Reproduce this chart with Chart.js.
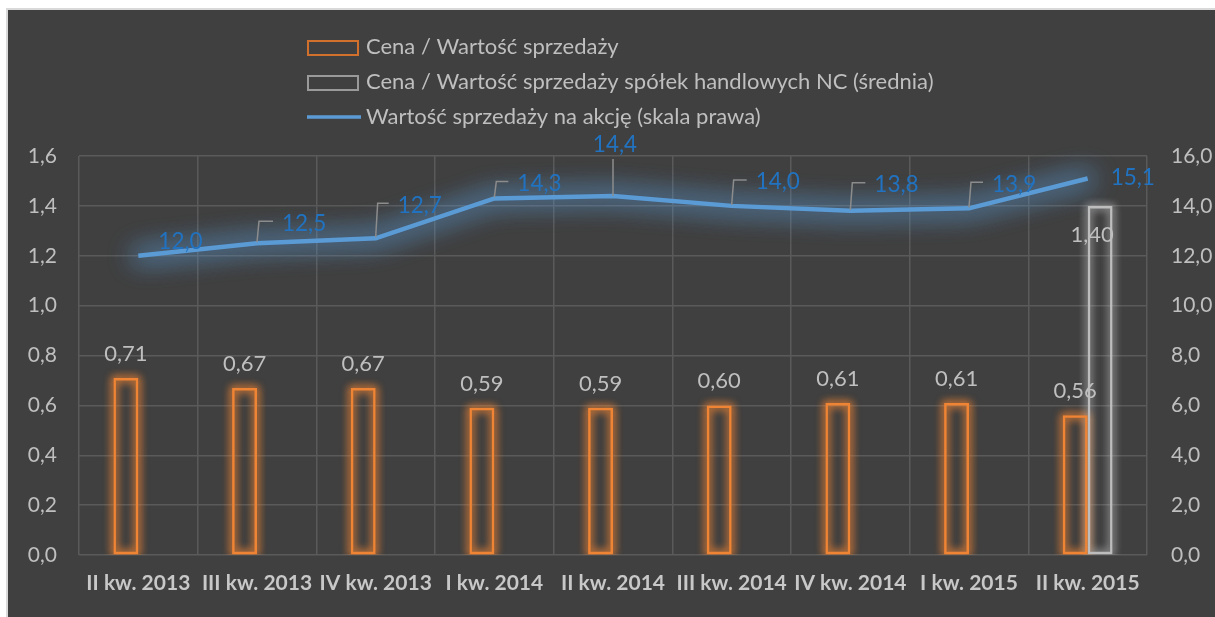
<!DOCTYPE html>
<html>
<head>
<meta charset="utf-8">
<script src="https://cdn.jsdelivr.net/npm/chart.js@4/dist/chart.umd.min.js"></script>
<style>
	html, body { margin: 0; padding: 0; background: #fff; overflow: hidden; }
	#panel {
		position: absolute; left: 6px; top: 8px; width: 1209px; height: 609px;
		border-top: 2px solid #d9d9d9; border-left: 2px solid #d9d9d9;
		background: #404040;
	}
	#wrap { position: absolute; left: 0; top: 0; width: 1207px; height: 607px; }
</style>
</head>
<body>
<div id="panel"><div id="wrap"><canvas id="chart"></canvas></div></div>
<script>
var categories = ['II kw. 2013', 'III kw. 2013', 'IV kw. 2013', 'I kw. 2014', 'II kw. 2014', 'III kw. 2014', 'IV kw. 2014', 'I kw. 2015', 'II kw. 2015'];
var priceToSales = [0.71, 0.67, 0.67, 0.59, 0.59, 0.60, 0.61, 0.61, 0.56];
var priceToSalesNC = [null, null, null, null, null, null, null, null, 1.40];
var salesPerShare = [12.0, 12.5, 12.7, 14.3, 14.4, 14.0, 13.8, 13.9, 15.1];
var seriesNames = [
	'Cena / Wartość sprzedaży',
	'Cena / Wartość sprzedaży spółek handlowych NC (średnia)',
	'Wartość sprzedaży na akcję (skala prawa)'
];

var FONT = 'Lato, "Open Sans", sans-serif';
var ORANGE = '#ef8434';
var GREY = '#bdbdbd';
var BLUE = '#5b9bd5';
var LABEL_BLUE = '#2173c1';
var TEXT = '#bfbfbf';

// where excel put the blue labels (text left / vertical offset from the point)
var lineLabelPos = [
	{dx: 20, dy: -14, leader: null},
	{dx: 25, dy: -20, leader: 'elbow'},
	{dx: 22, dy: -33, leader: 'elbow'},
	{dx: 23, dy: -15, leader: 'elbow'},
	{dx: 0, dy: -51, leader: 'vertical'},
	{dx: 24, dy: -24, leader: 'elbow'},
	{dx: 24, dy: -26, leader: 'elbow'},
	{dx: 23, dy: -24, leader: 'elbow'},
	{dx: 23, dy: -1, leader: null}
];

function comma(v, d){
	return v.toFixed(d).replace('.', ',');
}

// soft glow under the bars and the line (excel "glow" effect)
// shapes are drawn far off canvas, only their shadow lands on the chart
var SHIFT = 4000;
var glowPlugin = {
	id: 'glow',
	beforeDatasetsDraw: (chart) => {
		var ctx = chart.ctx;
		var area = chart.chartArea;
		ctx.save();
		ctx.beginPath();
		ctx.rect(area.left, area.top - 40, area.right - area.left + 20, area.bottom - area.top + 40);
		ctx.clip();
		ctx.translate(-SHIFT, 0);
		ctx.shadowOffsetX = SHIFT * chart.currentDevicePixelRatio;

		[1, 2].forEach(i => {
			var ds = chart.data.datasets[i];
			var meta = chart.getDatasetMeta(i);
			meta.data.forEach((bar, j) => {
				if(ds.data[j] == null) return;
				var p = bar.getProps(['x', 'y', 'base', 'width'], true);
				ctx.shadowColor = ds.glowColor;
				ctx.shadowBlur = 9;
				ctx.strokeStyle = '#000';
				ctx.lineWidth = 4;
				for(var k = 0; k < 2; k++){
					ctx.strokeRect(p.x - p.width / 2 + 1, p.y + 1, p.width - 2, p.base - p.y - 2);
				}
			});
		});

		var meta = chart.getDatasetMeta(0);
		ctx.shadowColor = 'rgba(91,155,213,0.45)';
		ctx.shadowBlur = 26;
		ctx.strokeStyle = '#000';
		ctx.lineWidth = 14;
		ctx.lineJoin = 'round';
		ctx.lineCap = 'round';
		for(var k = 0; k < 2; k++){
			ctx.beginPath();
			meta.data.forEach((pt, j) => {
				if(j === 0) ctx.moveTo(pt.x, pt.y);
				else ctx.lineTo(pt.x, pt.y);
			});
			ctx.stroke();
		}
		ctx.restore();
	}
};

var labelPlugin = {
	id: 'labels',
	afterDatasetsDraw: (chart) => {
		var ctx = chart.ctx;
		ctx.save();
		ctx.textBaseline = 'middle';

		// bar labels
		ctx.font = '22px ' + FONT;
		ctx.fillStyle = TEXT;
		ctx.textAlign = 'center';
		[1, 2].forEach(i => {
			var meta = chart.getDatasetMeta(i);
			var data = chart.data.datasets[i].data;
			meta.data.forEach((bar, j) => {
				if(data[j] == null) return;
				if(i === 1){
					ctx.fillText(comma(data[j], 2), bar.x, bar.y - 24);
				}else{
					ctx.fillText(comma(data[j], 2), bar.x - 8, bar.y + 29);
				}
			});
		});

		// line labels with leader lines
		var meta = chart.getDatasetMeta(0);
		ctx.font = '22.5px ' + FONT;
		meta.data.forEach((pt, j) => {
			var p = lineLabelPos[j];
			var ly = pt.y + p.dy;
			ctx.strokeStyle = '#8c8c8c';
			ctx.lineWidth = 1.5;
			if(p.leader === 'elbow'){
				ctx.beginPath();
				ctx.moveTo(pt.x, pt.y - 1);
				ctx.lineTo(pt.x + 2, ly - 2);
				ctx.lineTo(pt.x + p.dx - 9, ly - 2);
				ctx.stroke();
			}else if(p.leader === 'vertical'){
				ctx.beginPath();
				ctx.moveTo(pt.x, pt.y);
				ctx.lineTo(pt.x, ly + 14);
				ctx.stroke();
			}
			ctx.fillStyle = LABEL_BLUE;
			if(p.leader === 'vertical'){
				ctx.textAlign = 'center';
				ctx.fillText(comma(salesPerShare[j], 1), pt.x + 2, ly);
			}else{
				ctx.textAlign = 'left';
				ctx.fillText(comma(salesPerShare[j], 1), pt.x + p.dx, ly);
			}
		});
		ctx.restore();
	}
};

var legendPlugin = {
	id: 'customLegend',
	afterDraw: (chart) => {
		var ctx = chart.ctx;
		var x = 299, rows = [37, 72, 107];
		ctx.save();
		ctx.font = '22px ' + FONT;
		ctx.textBaseline = 'middle';
		ctx.textAlign = 'left';
		ctx.fillStyle = TEXT;
		ctx.lineWidth = 2;
		ctx.strokeStyle = '#d0702c';
		ctx.strokeRect(x + 1, rows[0] - 6, 50, 14);
		ctx.strokeStyle = '#9a9a9a';
		ctx.strokeRect(x + 1, rows[1] - 6, 50, 14);
		ctx.strokeStyle = BLUE;
		ctx.lineWidth = 3.5;
		ctx.beginPath();
		ctx.moveTo(x, rows[2]);
		ctx.lineTo(x + 54, rows[2]);
		ctx.stroke();
		seriesNames.forEach((name, i) => {
			ctx.fillText(name, x + 59, rows[i]);
		});
		ctx.restore();
	}
};

var chart = new Chart(document.getElementById('chart'), {
	type: 'bar',
	data: {
		labels: categories,
		datasets: [{
			type: 'line',
			label: seriesNames[2],
			data: salesPerShare,
			yAxisID: 'y1',
			borderColor: BLUE,
			borderWidth: 4.5,
			pointRadius: 0,
			tension: 0,
			order: 0
		}, {
			label: seriesNames[0],
			data: priceToSales,
			yAxisID: 'y',
			backgroundColor: 'rgba(0,0,0,0)',
			borderColor: ORANGE,
			borderWidth: 2.5,
			borderSkipped: false,
			order: 1,
			glowColor: 'rgba(239,132,52,0.75)'
		}, {
			label: seriesNames[1],
			data: priceToSalesNC,
			yAxisID: 'y',
			backgroundColor: 'rgba(0,0,0,0)',
			borderColor: GREY,
			borderWidth: 2.5,
			borderSkipped: false,
			order: 1,
			glowColor: 'rgba(215,215,215,0.45)'
		}]
	},
	options: {
		responsive: true,
		maintainAspectRatio: false,
		animation: false,
		categoryPercentage: 0.42,
		barPercentage: 1,
		layout: {padding: {top: 146, left: 0, right: 0, bottom: 0}},
		plugins: {
			legend: {display: false},
			tooltip: {enabled: false}
		},
		scales: {
			x: {
				grid: {color: '#5a5a5a', lineWidth: 1.5, drawTicks: false, offset: true},
				border: {display: false},
				ticks: {color: '#c8c8c8', font: {family: FONT, size: 21, weight: 'bold'}, padding: 16, maxRotation: 0, autoSkip: false},
				afterFit: (s) => { s.height = 62; }
			},
			y: {
				position: 'left',
				min: 0, max: 1.6,
				ticks: {stepSize: 0.2, color: TEXT, font: {family: FONT, size: 21}, padding: 22,
					callback: v => comma(v, 1)},
				grid: {color: '#5a5a5a', lineWidth: 1.5, drawTicks: false},
				border: {display: false},
				afterFit: (s) => { s.width = 71; }
			},
			y1: {
				position: 'right',
				min: 0, max: 16,
				ticks: {stepSize: 2, color: TEXT, font: {family: FONT, size: 21}, padding: 24,
					callback: v => comma(v, 1)},
				grid: {drawOnChartArea: false, drawTicks: false},
				border: {display: false},
				afterFit: (s) => { s.width = 68; }
			}
		}
	},
	plugins: [glowPlugin, labelPlugin, legendPlugin]
});
</script>
</body>
</html>
